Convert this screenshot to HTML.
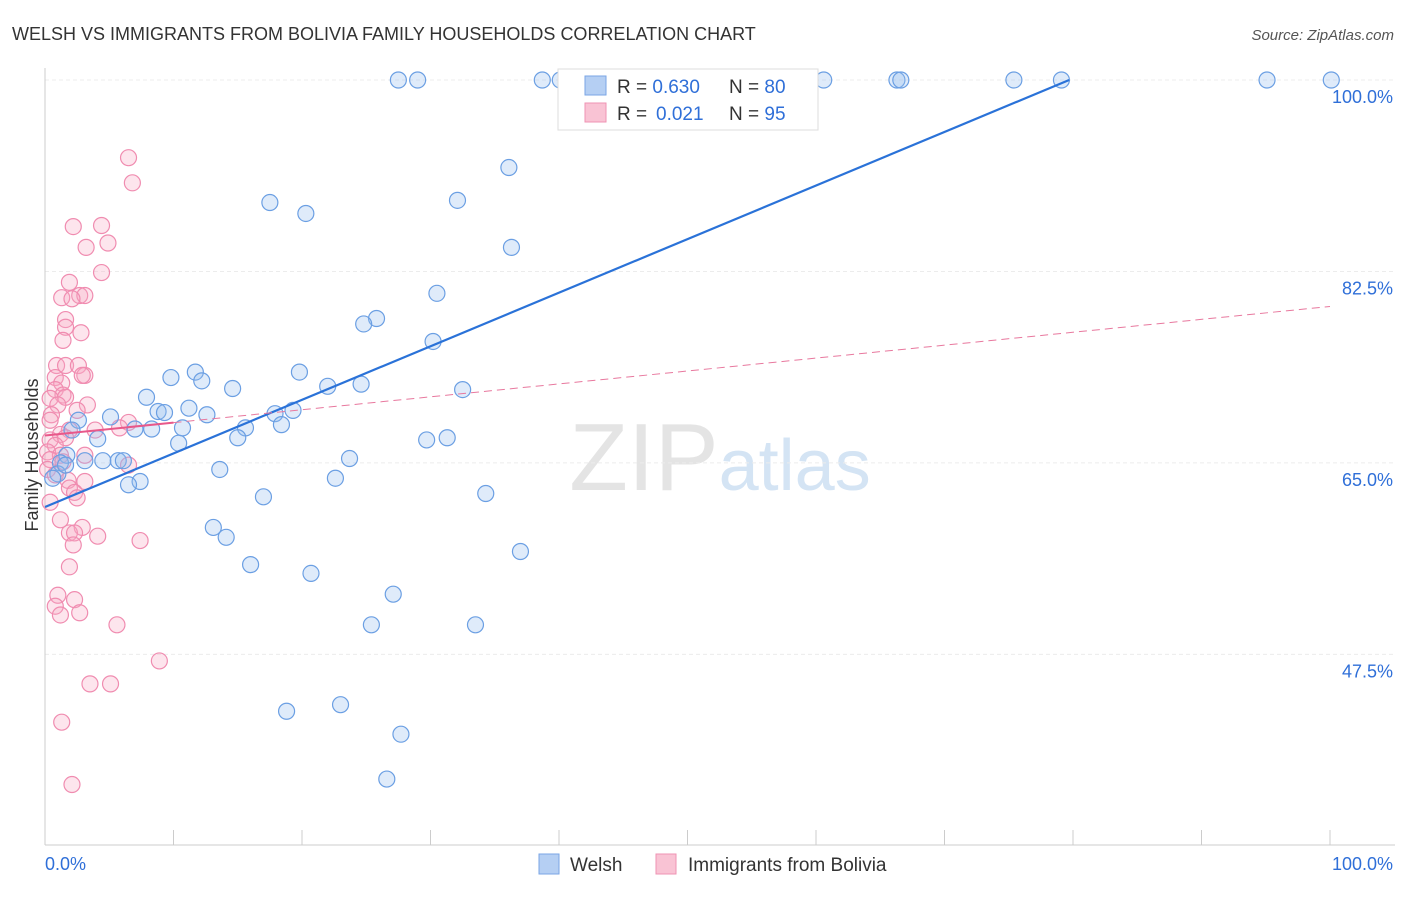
<!DOCTYPE html>
<html><head><meta charset="utf-8"><style>
body{margin:0;background:#fff;font-family:"Liberation Sans",sans-serif;}
svg text{font-family:"Liberation Sans",sans-serif;}
</style></head><body>
<svg width="1406" height="892" xmlns="http://www.w3.org/2000/svg">
<text x="12" y="40" font-size="18" fill="#333">WELSH VS IMMIGRANTS FROM BOLIVIA FAMILY HOUSEHOLDS CORRELATION CHART</text>
<text x="1394" y="40" font-size="15" fill="#555" text-anchor="end" font-style="italic">Source: ZipAtlas.com</text>
<text x="720" y="490" font-size="96" fill="#e4e4e4" text-anchor="middle" font-family="Liberation Serif"><tspan>ZIP</tspan><tspan fill="#d4e4f4" font-family="Liberation Sans" font-size="72">atlas</tspan></text>
<g id="grid"></g>
<g id="axes"></g>
<g id="pink"></g>
<g id="blue"></g>
<g id="lines"></g>
<text x="38" y="455" font-size="18" fill="#333" text-anchor="middle" transform="rotate(-90 38 455)">Family Households</text>
<g>
<rect x="558" y="69" width="260" height="61" fill="#fff" stroke="#ddd"/>
<rect x="585" y="76" width="21" height="19" fill="#b5cff3" stroke="#7aa6e6"/>
<rect x="585" y="103" width="21" height="19" fill="#f9c3d4" stroke="#ef93b3"/>
<text x="617" y="93" font-size="19" fill="#333">R = <tspan fill="#2f6fd8">0.630</tspan><tspan x="729">N = </tspan><tspan fill="#2f6fd8">80</tspan></text>
<text x="617" y="120" font-size="19" fill="#333">R = <tspan fill="#2f6fd8" x="656">0.021</tspan><tspan x="729">N = </tspan><tspan fill="#2f6fd8">95</tspan></text>
</g>
<g>
<rect x="539" y="854" width="20" height="20" fill="#b5cff3" stroke="#7aa6e6"/>
<text x="570" y="871" font-size="19" fill="#333">Welsh</text>
<rect x="656" y="854" width="20" height="20" fill="#f9c3d4" stroke="#ef93b3"/>
<text x="688" y="871" font-size="19" fill="#333">Immigrants from Bolivia</text>
</g>
</svg>
<script>
const yTicks=[100,82.5,65,47.5];
const xTickLabels=["0.0%","100.0%"];
const welshX=[];const welshY=[];
const boliviaX=[];const boliviaY=[];
const welshPx=[[398,80],[418,80],[542,80],[560,80],[657,80],[741,80],[824,80],[897,80],[901,80],[1014,80],[1061,80],[1267,80],[1331,80],[509,168],[457,200],[270,203],[306,213],[512,247],[437,293],[377,318],[364,324],[433,342],[195,372],[171,378],[202,381],[300,372],[232,388],[328,386],[361,384],[462,390],[146,397],[189,408],[158,412],[165,413],[207,415],[110,417],[79,420],[275,414],[293,410],[282,425],[245,428],[183,428],[152,429],[135,429],[72,430],[238,438],[98,439],[178,443],[427,440],[447,438],[67,455],[85,461],[103,461],[118,461],[123,461],[349,459],[60,463],[220,469],[58,474],[140,481],[128,485],[335,478],[486,494],[263,497],[213,527],[226,537],[521,552],[250,565],[311,573],[393,594],[371,625],[475,625],[287,711],[341,705],[401,734],[387,779],[53,478],[65,465]];
const boliviaPx=[[129,158],[133,183],[73,227],[101,226],[108,243],[86,247],[102,272],[70,282],[62,298],[80,296],[85,296],[72,299],[66,320],[66,327],[81,333],[63,340],[57,365],[66,365],[78,365],[85,375],[82,375],[55,378],[62,383],[55,390],[63,395],[65,397],[50,398],[88,405],[58,405],[77,410],[52,415],[50,420],[128,422],[120,428],[70,430],[95,430],[60,435],[50,440],[65,438],[55,445],[47,452],[60,455],[85,455],[50,460],[63,462],[128,465],[48,470],[55,475],[68,480],[85,482],[70,488],[75,492],[77,498],[50,502],[60,520],[82,527],[70,533],[75,533],[98,536],[140,541],[73,545],[70,567],[58,595],[75,600],[55,606],[80,613],[60,615],[117,625],[160,661],[90,684],[110,684],[62,722],[72,784]];
welshPx.forEach(p=>{welshX.push(+((p[0]-45)/12.85).toFixed(1));welshY.push(+(100-(p[1]-80)/10.94).toFixed(1));});
boliviaPx.forEach(p=>{boliviaX.push(+((p[0]-45)/12.85).toFixed(1));boliviaY.push(+(100-(p[1]-80)/10.94).toFixed(1));});
const welshTrend=[60.97,100];const welshTrendX=[0,79.7];
const boliviaTrend=[67.5,79.3];
const NS="http://www.w3.org/2000/svg";
const sx=v=>45+v*12.85, sy=v=>80+(100-v)*10.94;
function mk(t,a,p){const e=document.createElementNS(NS,t);for(const k in a)e.setAttribute(k,a[k]);p.appendChild(e);return e;}
const grid=document.getElementById('grid'),axes=document.getElementById('axes');
yTicks.forEach(v=>{const l=mk('line',{x1:45,x2:1395,y1:sy(v),y2:sy(v),stroke:'#ececec','stroke-dasharray':'4 3'},grid);


const t=mk('text',{x:1393,y:sy(v)+23,'font-size':18,fill:'#2f6fd8','text-anchor':'end'},axes);t.textContent=v.toFixed(1)+'%';

});
mk('line',{x1:45,x2:45,y1:68,y2:845,stroke:'#ccc'},axes);
mk('line',{x1:45,x2:1395,y1:845,y2:845,stroke:'#ccc'},axes);
for(let i=0;i<=10;i++){mk('line',{x1:sx(i*10),x2:sx(i*10),y1:830,y2:845,stroke:'#ccc'},axes);}
const xl0=mk('text',{x:45,y:870,'font-size':18,fill:'#2f6fd8'},axes);xl0.textContent=xTickLabels[0];


const xl1=mk('text',{x:1393,y:870,'font-size':18,fill:'#2f6fd8','text-anchor':'end'},axes);xl1.textContent=xTickLabels[1];


const pg=document.getElementById('pink'),bg=document.getElementById('blue'),lg=document.getElementById('lines');
boliviaX.forEach((x,i)=>{const c=mk('circle',{cx:sx(x),cy:sy(boliviaY[i]),r:8,fill:'rgba(247,170,196,0.3)',stroke:'#f08cb0','stroke-width':1.2},pg);

});
welshX.forEach((x,i)=>{const c=mk('circle',{cx:sx(x),cy:sy(welshY[i]),r:8,fill:'rgba(150,190,240,0.3)',stroke:'#6b9fe3','stroke-width':1.2},bg);

});
const l1=mk('line',{x1:sx(welshTrendX[0]),y1:sy(welshTrend[0]),x2:sx(welshTrendX[1]),y2:sy(welshTrend[1]),stroke:'#2a72d8','stroke-width':2.2},lg);


const bv=x=>boliviaTrend[0]+(boliviaTrend[1]-boliviaTrend[0])*x/100;
const l2=mk('line',{x1:sx(0),y1:sy(bv(0)),x2:sx(10),y2:sy(bv(10)),stroke:'#e8588a','stroke-width':2},lg);


const l3=mk('line',{x1:sx(10),y1:sy(bv(10)),x2:sx(100),y2:sy(bv(100)),stroke:'#e8789e','stroke-width':1,'stroke-dasharray':'8 5'},lg);


</script>
</body></html>
